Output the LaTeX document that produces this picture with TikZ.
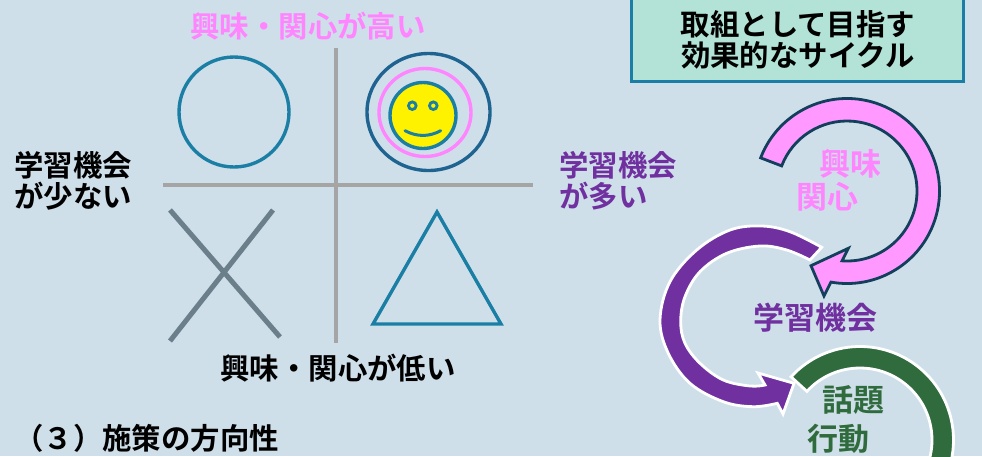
\documentclass[tikz,border=0pt]{standalone}
\usepackage{fontspec}
\setmainfont{Noto Sans CJK JP}[BoldFont={Noto Sans CJK JP Bold}]
\definecolor{bgblue}{HTML}{CFDFEA}
\definecolor{boxgreen}{HTML}{B2E3D6}
\definecolor{teal}{HTML}{1B7FA5}
\definecolor{navy}{HTML}{1F6391}
\definecolor{rulegray}{HTML}{A5A5A5}
\definecolor{crossgray}{HTML}{6A7F8A}
\definecolor{pinktext}{HTML}{FF85FF}
\definecolor{pinkfill}{HTML}{FF99FF}
\definecolor{pinkedge}{HTML}{123F5C}
\definecolor{purplefill}{HTML}{7030A0}
\definecolor{greenfill}{HTML}{2F6B3C}
\tikzset{%
  jplabel/.style = {font=\fontsize{29.4}{31}\selectfont\bfseries,inner sep=0pt,align=left},%
  cyclelabel/.style = {jplabel,font=\fontsize{31}{33}\selectfont\bfseries},%
  rule/.style    = {draw=rulegray,line width=4.5pt},%
  crossline/.style = {draw=crossgray,line width=5pt},%
  markline/.style = {draw=teal,line width=3.4pt},%
  cyclearrow/.style = {draw=white,line width=2.8pt,miter limit=8}%
}
\begin{document}
\begin{tikzpicture}[x=1pt,y=-1pt]
	\useasboundingbox (0,0) rectangle (982,456);
	\clip (0,0) rectangle (982,456);
	\fill[bgblue] (0,0) rectangle (982,456);
	% quadrant
	\draw[rule] (336,48) -- (336,343);
	\draw[rule] (163,185) -- (533,185);
	\draw[markline] (234,112) circle[radius=55];
	\draw[crossline] (170,210) -- (280,337);
	\draw[crossline] (273,210) -- (170,341);
	\draw[markline,line join=miter] (437,212) -- (501,324) -- (373,324) -- cycle;
	% smiley
	\draw[navy,line width=3.4pt] (428.5,112) ellipse[x radius=61.5,y radius=58.5];
	\draw[pinktext,line width=3.4pt] (425,112.5) ellipse[x radius=46,y radius=44];
	\draw[markline,fill=yellow] (423,115.5) circle[radius=33];
	\draw[teal,line width=2.8pt] (412.3,105.7) circle[radius=3.8];
	\draw[teal,line width=2.8pt] (433.3,105.7) circle[radius=3.8];
	\draw[teal,line width=3pt,line cap=round] (405,130.7) .. controls (417,137) and (429,137) .. (440.7,130.7);
	% labels
	\node[jplabel,text=pinktext] (high) at (308,26) {興味・関心が高い};
	\node[jplabel] (low) at (338,368) {興味・関心が低い};
	\node[jplabel,anchor=west] (few) at (14,181) {学習機会\\が少ない};
	\node[jplabel,anchor=west,text=purplefill] (many) at (559,181) {学習機会\\が多い};
	\node[jplabel,anchor=west] (policy) at (14,438) {（３）施策の方向性};
	% title box
	\node[draw=teal,line width=3pt,fill=boxgreen,minimum width=332pt,minimum height=100pt,inner sep=0pt] (titlebox) at (797.5,31.5) {};
	\node[jplabel,align=center] (title) at (798,39.5) {取組として目指す\\効果的なサイクル};
	% cycle arrows
	\begin{scope}[shift={(860,440)}]
		\draw[cyclearrow,fill=greenfill] (222.5:93.5) arc[start angle=222.5,end angle=400,radius=93.5] -- (400:72) arc[start angle=400,end angle=222.5,radius=72] -- cycle;
	\end{scope}
	\draw[cyclearrow,fill=purplefill] (821.7,247.3) -- plot[smooth,tension=0.6] coordinates {(821.7,247.3) (790,231.7) (761.7,226) (730,230) (696.7,250) (670,281.7) (660,320) (668.3,353.3) (690,383.3) (723.3,401.7) (753.3,406.7) (777.3,403.3)}
		-- (783,414) -- (794,383.3) -- (758,373) -- (765,385)
		-- plot[smooth,tension=0.6] coordinates {(765,385) (750,386) (723.3,380) (700,363.3) (685,343.3) (680.7,321.7) (685,296.7) (700,271.7) (726.7,253.3) (760,246) (786.7,250) (810,260)} -- cycle;
	\begin{scope}[shift={(847,191)}]
		\draw[draw=pinkedge,line width=2.8pt,fill=pinkfill,miter limit=8] (201:92.5) arc[start angle=201,end angle=460,radius=92.5] -- (-23,105) -- (-36,74.7) -- (1.3,57.3) -- (454:70) arc[start angle=454,end angle=201,radius=70] -- cycle;
	\end{scope}
	\node[cyclelabel,text=pinktext] (interest) at (850,164) {興味};
	\node[cyclelabel,text=pinktext] (concern) at (827,197) {関心};
	\node[cyclelabel,text=purplefill] (chance) at (815,318) {学習機会};
	\node[cyclelabel,text=greenfill] (topic) at (853,400) {話題};
	\node[cyclelabel,text=greenfill] (action) at (838,439) {行動};
\end{tikzpicture}
\end{document}
